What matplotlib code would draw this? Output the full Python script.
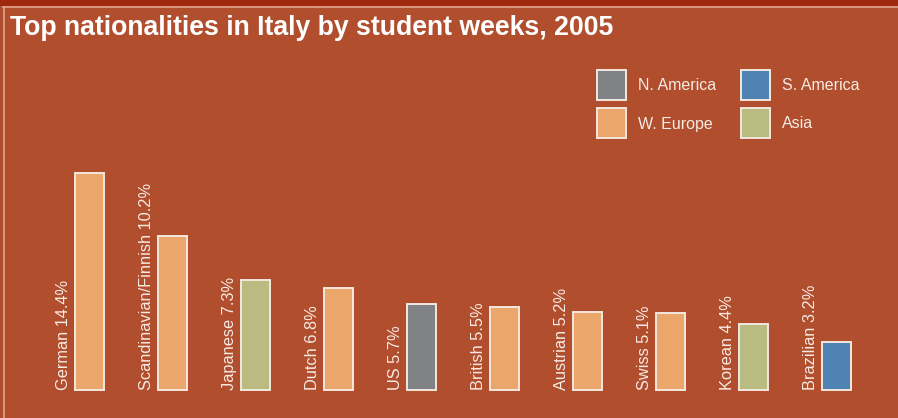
import matplotlib.pyplot as plt
from matplotlib.patches import Rectangle
import matplotlib.lines as mlines

plt.rcParams['font.family'] = ['Liberation Sans', 'DejaVu Sans']

nationalities = ["German", "Scandinavian/Finnish", "Japanese", "Dutch", "US",
                 "British", "Austrian", "Swiss", "Korean", "Brazilian"]
shares = [14.4, 10.2, 7.3, 6.8, 5.7, 5.5, 5.2, 5.1, 4.4, 3.2]
regions = ["W. Europe", "W. Europe", "Asia", "W. Europe", "N. America",
           "W. Europe", "W. Europe", "W. Europe", "Asia", "S. America"]

region_colors = {
    "N. America": "#808285",
    "S. America": "#4e83b3",
    "W. Europe": "#eba66c",
    "Asia": "#babb80",
}
bg = "#b04e2e"
edge = "#f3e8df"
txt = "#f8ebe4"

W, H = 898, 418
fig = plt.figure(figsize=(W / 100, H / 100), dpi=100)
fig.patch.set_facecolor(bg)

# dark strip on top and thin light frame line
fig.patches.append(Rectangle((0, 1 - 6 / H), 1, 6 / H, transform=fig.transFigure,
                             facecolor="#a0280f", edgecolor="none", zorder=0))
fig.lines.append(mlines.Line2D([3 / W, 1], [1 - 7 / H, 1 - 7 / H], transform=fig.transFigure,
                               color="#e3a48f", lw=1.2))
fig.lines.append(mlines.Line2D([3.5 / W, 3.5 / W], [0, 1 - 7 / H], transform=fig.transFigure,
                               color="#e3a48f", lw=1.2))

fig.text(10 / W, 1 - 28 / H, "Top nationalities in Italy by student weeks, 2005",
         color="white", fontsize=19.2, fontweight="bold", va="center", ha="left")

# main axes: y=0 at pixel 390 from top, 15.07 px per percent, bars every 83 px
px_per_pct = 15.07
step = 83.0
ax_left, ax_right = 6, 898
ax_bottom, ax_top = 28, 300
ax = fig.add_axes([ax_left / W, ax_bottom / H, (ax_right - ax_left) / W, (ax_top - ax_bottom) / H])
ax.set_facecolor("none")
x0 = -(89.5 - ax_left) / step
ax.set_xlim(x0, x0 + (ax_right - ax_left) / step)
ax.set_ylim(0, (ax_top - ax_bottom) / px_per_pct)
ax.axis("off")

xs = list(range(len(nationalities)))
ax.bar(xs, shares, width=29 / step, color=[region_colors[r] for r in regions],
       edgecolor=edge, linewidth=1.4, clip_on=False)
for x, n, s in zip(xs, nationalities, shares):
    ax.text(x - 26.5 / step, 0, f"{n} {s}%", rotation=90, ha="center", va="bottom",
            color=txt, fontsize=11.8, clip_on=False)

# legend
legend_items = [("N. America", 597, 70), ("S. America", 741, 70),
                ("W. Europe", 597, 108), ("Asia", 741, 108)]
for name, lx, ly in legend_items:
    fig.patches.append(Rectangle((lx / W, 1 - (ly + 30) / H), 29 / W, 30 / H,
                                 transform=fig.transFigure, facecolor=region_colors[name],
                                 edgecolor=edge, linewidth=1.4))
    fig.text((lx + 41) / W, 1 - (ly + 16) / H, name, color=txt, fontsize=11.5,
             va="center", ha="left")

fig.savefig("out.png", dpi=100, facecolor=bg)
